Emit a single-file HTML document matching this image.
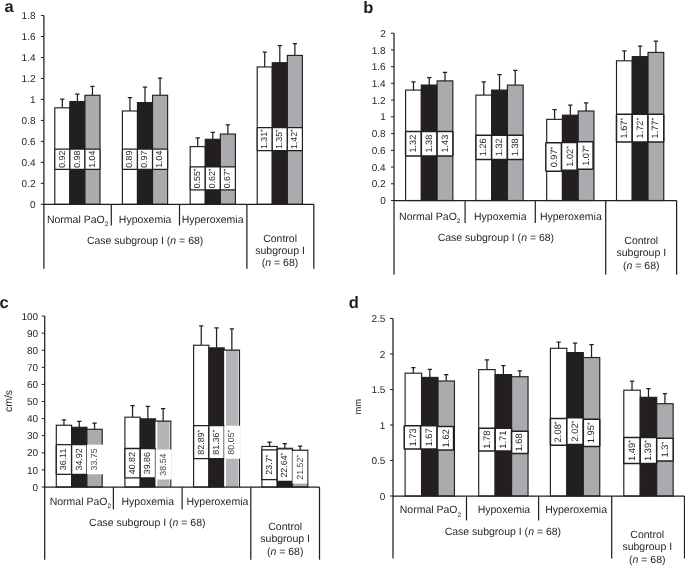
<!DOCTYPE html>
<html lang="en">
<head>
<meta charset="utf-8">
<title>Figure</title>
<style>
html,body{margin:0;padding:0;background:#fff;}
body{width:685px;height:566px;overflow:hidden;}
svg{display:block;will-change:transform;text-rendering:geometricPrecision;font-family:"Liberation Sans", Arial, Helvetica, sans-serif;}
</style>
</head>
<body>
<svg width="685" height="566" viewBox="0 0 685 566">
<rect width="685" height="566" fill="#fff"/>
<g id="panel-a">
<text x="4.5" y="12.3" font-size="16.5" font-weight="bold" fill="#231f20">a</text>
<path d="M62.33 107.84V99.2M60.18 99.2H64.48" stroke="#231f20" stroke-width="1.25" fill="none"/>
<rect x="54.8" y="107.84" width="15.07" height="96.46" fill="#ffffff" stroke="#231f20" stroke-width="1.15"/>
<path d="M77.41 101.55V94M75.25 94H79.56" stroke="#231f20" stroke-width="1.25" fill="none"/>
<rect x="69.87" y="101.55" width="15.07" height="102.75" fill="#231f20" stroke="#231f20" stroke-width="1.15"/>
<path d="M92.47 95.26V86.4M90.32 86.4H94.62" stroke="#231f20" stroke-width="1.25" fill="none"/>
<rect x="84.94" y="95.26" width="15.07" height="109.04" fill="#a9abae" stroke="#231f20" stroke-width="1.15"/>
<path d="M129.94 110.98V97.7M127.78 97.7H132.09" stroke="#231f20" stroke-width="1.25" fill="none"/>
<rect x="122.4" y="110.98" width="15.07" height="93.32" fill="#ffffff" stroke="#231f20" stroke-width="1.15"/>
<path d="M145 102.6V87.2M142.85 87.2H147.16" stroke="#231f20" stroke-width="1.25" fill="none"/>
<rect x="137.47" y="102.6" width="15.07" height="101.7" fill="#231f20" stroke="#231f20" stroke-width="1.15"/>
<path d="M160.08 95.26V78.1M157.93 78.1H162.23" stroke="#231f20" stroke-width="1.25" fill="none"/>
<rect x="152.54" y="95.26" width="15.07" height="109.04" fill="#a9abae" stroke="#231f20" stroke-width="1.15"/>
<path d="M197.73 146.63V137.9M195.58 137.9H199.88" stroke="#231f20" stroke-width="1.25" fill="none"/>
<rect x="190.2" y="146.63" width="15.07" height="57.67" fill="#ffffff" stroke="#231f20" stroke-width="1.15"/>
<path d="M212.8 139.29V132.3M210.65 132.3H214.95" stroke="#231f20" stroke-width="1.25" fill="none"/>
<rect x="205.27" y="139.29" width="15.07" height="65.01" fill="#231f20" stroke="#231f20" stroke-width="1.15"/>
<path d="M227.87 134.05V124.9M225.72 124.9H230.02" stroke="#231f20" stroke-width="1.25" fill="none"/>
<rect x="220.34" y="134.05" width="15.07" height="70.25" fill="#a9abae" stroke="#231f20" stroke-width="1.15"/>
<path d="M264.74 66.95V52M262.59 52H266.88" stroke="#231f20" stroke-width="1.25" fill="none"/>
<rect x="257.2" y="66.95" width="15.07" height="137.35" fill="#ffffff" stroke="#231f20" stroke-width="1.15"/>
<path d="M279.81 62.75V45.7M277.66 45.7H281.95" stroke="#231f20" stroke-width="1.25" fill="none"/>
<rect x="272.27" y="62.75" width="15.07" height="141.55" fill="#231f20" stroke="#231f20" stroke-width="1.15"/>
<path d="M294.88 55.41V43.5M292.73 43.5H297.02" stroke="#231f20" stroke-width="1.25" fill="none"/>
<rect x="287.34" y="55.41" width="15.07" height="148.89" fill="#a9abae" stroke="#231f20" stroke-width="1.15"/>
<rect x="54.8" y="149.1" width="15.07" height="20.3" fill="#fff" stroke="#231f20" stroke-width="1.2" rx="0.6"/>
<text transform="translate(64.74 159.25) rotate(-90)" text-anchor="middle" font-size="8.8" fill="#231f20">0.92</text>
<rect x="69.87" y="149.1" width="15.07" height="20.3" fill="#fff" stroke="#231f20" stroke-width="1.2" rx="0.6"/>
<text transform="translate(79.81 159.25) rotate(-90)" text-anchor="middle" font-size="8.8" fill="#231f20">0.98</text>
<rect x="84.94" y="149.1" width="15.07" height="20.3" fill="#fff" stroke="#231f20" stroke-width="1.2" rx="0.6"/>
<text transform="translate(94.88 159.25) rotate(-90)" text-anchor="middle" font-size="8.8" fill="#231f20">1.04</text>
<rect x="122.4" y="149.1" width="15.07" height="20.3" fill="#fff" stroke="#231f20" stroke-width="1.2" rx="0.6"/>
<text transform="translate(132.34 159.25) rotate(-90)" text-anchor="middle" font-size="8.8" fill="#231f20">0.89</text>
<rect x="137.47" y="149.1" width="15.07" height="20.3" fill="#fff" stroke="#231f20" stroke-width="1.2" rx="0.6"/>
<text transform="translate(147.41 159.25) rotate(-90)" text-anchor="middle" font-size="8.8" fill="#231f20">0.97</text>
<rect x="152.54" y="149.1" width="15.07" height="20.3" fill="#fff" stroke="#231f20" stroke-width="1.2" rx="0.6"/>
<text transform="translate(162.48 159.25) rotate(-90)" text-anchor="middle" font-size="8.8" fill="#231f20">1.04</text>
<rect x="190.2" y="166.9" width="15.07" height="22.9" fill="#fff" stroke="#231f20" stroke-width="1.2" rx="0.6"/>
<text transform="translate(200.14 178.35) rotate(-90)" text-anchor="middle" font-size="8.8" fill="#231f20">0.55<tspan font-size="7" dy="-2">*</tspan></text>
<rect x="205.27" y="166.9" width="15.07" height="22.9" fill="#fff" stroke="#231f20" stroke-width="1.2" rx="0.6"/>
<text transform="translate(215.21 178.35) rotate(-90)" text-anchor="middle" font-size="8.8" fill="#231f20">0.62<tspan font-size="7" dy="-2">*</tspan></text>
<rect x="220.34" y="166.9" width="15.07" height="22.9" fill="#fff" stroke="#231f20" stroke-width="1.2" rx="0.6"/>
<text transform="translate(230.28 178.35) rotate(-90)" text-anchor="middle" font-size="8.8" fill="#231f20">0.67<tspan font-size="7" dy="-2">*</tspan></text>
<rect x="257.2" y="127.6" width="15.07" height="23" fill="#fff" stroke="#231f20" stroke-width="1.2" rx="0.6"/>
<text transform="translate(267.14 139.1) rotate(-90)" text-anchor="middle" font-size="8.8" fill="#231f20">1.31<tspan font-size="7" dy="-2">*</tspan></text>
<rect x="272.27" y="127.6" width="15.07" height="23" fill="#fff" stroke="#231f20" stroke-width="1.2" rx="0.6"/>
<text transform="translate(282.21 139.1) rotate(-90)" text-anchor="middle" font-size="8.8" fill="#231f20">1.35<tspan font-size="7" dy="-2">*</tspan></text>
<rect x="287.34" y="127.6" width="15.07" height="23" fill="#fff" stroke="#231f20" stroke-width="1.2" rx="0.6"/>
<text transform="translate(297.28 139.1) rotate(-90)" text-anchor="middle" font-size="8.8" fill="#231f20">1.42<tspan font-size="7" dy="-2">*</tspan></text>
<path d="M43.9 15.57V268.7M43.9 204.3H313.8" stroke="#231f20" stroke-width="1.25" fill="none"/>
<path d="M111.3 204.3V225.5" stroke="#231f20" stroke-width="1.2"/>
<path d="M179.5 204.3V225.5" stroke="#231f20" stroke-width="1.2"/>
<path d="M246.9 204.3V268.7" stroke="#231f20" stroke-width="1.25"/>
<path d="M313.8 204.3V268.7" stroke="#231f20" stroke-width="1.25"/>
<path d="M40.9 204.3H43.9" stroke="#231f20" stroke-width="1"/>
<text x="35.5" y="207.9" text-anchor="end" font-size="10" fill="#231f20">0</text>
<path d="M40.9 183.33H43.9" stroke="#231f20" stroke-width="1"/>
<text x="35.5" y="186.93" text-anchor="end" font-size="10" fill="#231f20">0.2</text>
<path d="M40.9 162.36H43.9" stroke="#231f20" stroke-width="1"/>
<text x="35.5" y="165.96" text-anchor="end" font-size="10" fill="#231f20">0.4</text>
<path d="M40.9 141.39H43.9" stroke="#231f20" stroke-width="1"/>
<text x="35.5" y="144.99" text-anchor="end" font-size="10" fill="#231f20">0.6</text>
<path d="M40.9 120.42H43.9" stroke="#231f20" stroke-width="1"/>
<text x="35.5" y="124.02" text-anchor="end" font-size="10" fill="#231f20">0.8</text>
<path d="M40.9 99.45H43.9" stroke="#231f20" stroke-width="1"/>
<text x="35.5" y="103.05" text-anchor="end" font-size="10" fill="#231f20">1</text>
<path d="M40.9 78.48H43.9" stroke="#231f20" stroke-width="1"/>
<text x="35.5" y="82.08" text-anchor="end" font-size="10" fill="#231f20">1.2</text>
<path d="M40.9 57.51H43.9" stroke="#231f20" stroke-width="1"/>
<text x="35.5" y="61.11" text-anchor="end" font-size="10" fill="#231f20">1.4</text>
<path d="M40.9 36.54H43.9" stroke="#231f20" stroke-width="1"/>
<text x="35.5" y="40.14" text-anchor="end" font-size="10" fill="#231f20">1.6</text>
<path d="M40.9 15.57H43.9" stroke="#231f20" stroke-width="1"/>
<text x="35.5" y="19.17" text-anchor="end" font-size="10" fill="#231f20">1.8</text>
<text x="77.64" y="223" text-anchor="middle" font-size="10.5" fill="#231f20">Normal PaO<tspan font-size="6.5" dy="3.3">2</tspan></text>
<text x="145.11" y="223" text-anchor="middle" font-size="10.5" fill="#231f20">Hypoxemia</text>
<text x="212.59" y="223" text-anchor="middle" font-size="10.5" fill="#231f20">Hyperoxemia</text>
<text x="145.11" y="243.8" text-anchor="middle" font-size="10.5" fill="#231f20">Case subgroup I (<tspan font-style="italic">n</tspan> = 68)</text>
<text x="280.06" y="241.8" text-anchor="middle" font-size="10.5" fill="#231f20">Control</text>
<text x="280.06" y="253.7" text-anchor="middle" font-size="10.5" fill="#231f20">subgroup I</text>
<text x="280.06" y="265.6" text-anchor="middle" font-size="10.5" fill="#231f20">(<tspan font-style="italic">n</tspan> = 68)</text>
</g>
<g id="panel-b">
<text x="363.2" y="12.8" font-size="16.5" font-weight="bold" fill="#231f20">b</text>
<path d="M413.48 90.08V81.9M411.33 81.9H415.62" stroke="#231f20" stroke-width="1.25" fill="none"/>
<rect x="405.6" y="90.08" width="15.75" height="110.42" fill="#ffffff" stroke="#231f20" stroke-width="1.15"/>
<path d="M429.23 85.06V77.6M427.08 77.6H431.38" stroke="#231f20" stroke-width="1.25" fill="none"/>
<rect x="421.35" y="85.06" width="15.75" height="115.44" fill="#231f20" stroke="#231f20" stroke-width="1.15"/>
<path d="M444.98 80.88V72.4M442.83 72.4H447.12" stroke="#231f20" stroke-width="1.25" fill="none"/>
<rect x="437.1" y="80.88" width="15.75" height="119.62" fill="#a9abae" stroke="#231f20" stroke-width="1.15"/>
<path d="M483.77 95.1V81.9M481.62 81.9H485.92" stroke="#231f20" stroke-width="1.25" fill="none"/>
<rect x="475.9" y="95.1" width="15.75" height="105.4" fill="#ffffff" stroke="#231f20" stroke-width="1.15"/>
<path d="M499.52 90.08V74.6M497.38 74.6H501.67" stroke="#231f20" stroke-width="1.25" fill="none"/>
<rect x="491.65" y="90.08" width="15.75" height="110.42" fill="#231f20" stroke="#231f20" stroke-width="1.15"/>
<path d="M515.27 85.06V70.4M513.12 70.4H517.42" stroke="#231f20" stroke-width="1.25" fill="none"/>
<rect x="507.4" y="85.06" width="15.75" height="115.44" fill="#a9abae" stroke="#231f20" stroke-width="1.15"/>
<path d="M554.58 119.36V109.5M552.43 109.5H556.73" stroke="#231f20" stroke-width="1.25" fill="none"/>
<rect x="546.7" y="119.36" width="15.75" height="81.14" fill="#ffffff" stroke="#231f20" stroke-width="1.15"/>
<path d="M570.33 115.18V105M568.18 105H572.48" stroke="#231f20" stroke-width="1.25" fill="none"/>
<rect x="562.45" y="115.18" width="15.75" height="85.32" fill="#231f20" stroke="#231f20" stroke-width="1.15"/>
<path d="M586.08 110.99V102.8M583.93 102.8H588.23" stroke="#231f20" stroke-width="1.25" fill="none"/>
<rect x="578.2" y="110.99" width="15.75" height="89.51" fill="#a9abae" stroke="#231f20" stroke-width="1.15"/>
<path d="M624.38 60.8V50.8M622.23 50.8H626.52" stroke="#231f20" stroke-width="1.25" fill="none"/>
<rect x="616.5" y="60.8" width="15.75" height="139.7" fill="#ffffff" stroke="#231f20" stroke-width="1.15"/>
<path d="M640.12 56.62V46M637.98 46H642.27" stroke="#231f20" stroke-width="1.25" fill="none"/>
<rect x="632.25" y="56.62" width="15.75" height="143.88" fill="#231f20" stroke="#231f20" stroke-width="1.15"/>
<path d="M655.88 52.44V41.2M653.73 41.2H658.02" stroke="#231f20" stroke-width="1.25" fill="none"/>
<rect x="648" y="52.44" width="15.75" height="148.06" fill="#a9abae" stroke="#231f20" stroke-width="1.15"/>
<rect x="405.6" y="131.4" width="15.75" height="24.5" fill="#fff" stroke="#231f20" stroke-width="1.45" rx="0.6"/>
<text transform="translate(416.02 143.65) rotate(-90)" text-anchor="middle" font-size="9.2" fill="#231f20">1.32</text>
<rect x="421.35" y="131.4" width="15.75" height="24.5" fill="#fff" stroke="#231f20" stroke-width="1.45" rx="0.6"/>
<text transform="translate(431.77 143.65) rotate(-90)" text-anchor="middle" font-size="9.2" fill="#231f20">1.38</text>
<rect x="437.1" y="131.4" width="15.75" height="24.5" fill="#fff" stroke="#231f20" stroke-width="1.45" rx="0.6"/>
<text transform="translate(447.52 143.65) rotate(-90)" text-anchor="middle" font-size="9.2" fill="#231f20">1.43</text>
<rect x="475.9" y="135.2" width="15.75" height="24.2" fill="#fff" stroke="#231f20" stroke-width="1.45" rx="0.6"/>
<text transform="translate(486.32 147.3) rotate(-90)" text-anchor="middle" font-size="9.2" fill="#231f20">1.26</text>
<rect x="491.65" y="135.2" width="15.75" height="24.2" fill="#fff" stroke="#231f20" stroke-width="1.45" rx="0.6"/>
<text transform="translate(502.07 147.3) rotate(-90)" text-anchor="middle" font-size="9.2" fill="#231f20">1.32</text>
<rect x="507.4" y="135.2" width="15.75" height="24.2" fill="#fff" stroke="#231f20" stroke-width="1.45" rx="0.6"/>
<text transform="translate(517.82 147.3) rotate(-90)" text-anchor="middle" font-size="9.2" fill="#231f20">1.38</text>
<rect x="545.8" y="142.7" width="15.75" height="28.6" fill="#fff" stroke="#231f20" stroke-width="1.45" rx="0.6"/>
<text transform="translate(557.12 157) rotate(-90)" text-anchor="middle" font-size="9.2" fill="#231f20">0.97<tspan font-size="7" dy="-2">*</tspan></text>
<rect x="561.55" y="142.5" width="15.75" height="27.8" fill="#fff" stroke="#231f20" stroke-width="1.45" rx="0.6"/>
<text transform="translate(572.87 156.4) rotate(-90)" text-anchor="middle" font-size="9.2" fill="#231f20">1.02<tspan font-size="7" dy="-2">*</tspan></text>
<rect x="577.3" y="141.8" width="15.75" height="27.5" fill="#fff" stroke="#231f20" stroke-width="1.45" rx="0.6"/>
<text transform="translate(588.62 155.55) rotate(-90)" text-anchor="middle" font-size="9.2" fill="#231f20">1.07<tspan font-size="7" dy="-2">*</tspan></text>
<rect x="616.5" y="114.3" width="15.75" height="27.7" fill="#fff" stroke="#231f20" stroke-width="1.45" rx="0.6"/>
<text transform="translate(626.92 128.15) rotate(-90)" text-anchor="middle" font-size="9.2" fill="#231f20">1.67<tspan font-size="7" dy="-2">*</tspan></text>
<rect x="632.25" y="114.3" width="15.75" height="27.7" fill="#fff" stroke="#231f20" stroke-width="1.45" rx="0.6"/>
<text transform="translate(642.67 128.15) rotate(-90)" text-anchor="middle" font-size="9.2" fill="#231f20">1.72<tspan font-size="7" dy="-2">*</tspan></text>
<rect x="648" y="114.3" width="15.75" height="27.7" fill="#fff" stroke="#231f20" stroke-width="1.45" rx="0.6"/>
<text transform="translate(658.42 128.15) rotate(-90)" text-anchor="middle" font-size="9.2" fill="#231f20">1.77<tspan font-size="7" dy="-2">*</tspan></text>
<path d="M394 33.2V274.6M394 200.5H676.6" stroke="#231f20" stroke-width="1.25" fill="none"/>
<path d="M465.1 200.5V223" stroke="#231f20" stroke-width="1.2"/>
<path d="M535.3 200.5V223" stroke="#231f20" stroke-width="1.2"/>
<path d="M605.7 200.5V274.6" stroke="#231f20" stroke-width="1.25"/>
<path d="M676.6 200.5V274.6" stroke="#231f20" stroke-width="1.25"/>
<path d="M391 200.5H394" stroke="#231f20" stroke-width="1"/>
<text x="385.7" y="204.1" text-anchor="end" font-size="10" fill="#231f20">0</text>
<path d="M391 183.77H394" stroke="#231f20" stroke-width="1"/>
<text x="385.7" y="187.37" text-anchor="end" font-size="10" fill="#231f20">0.2</text>
<path d="M391 167.04H394" stroke="#231f20" stroke-width="1"/>
<text x="385.7" y="170.64" text-anchor="end" font-size="10" fill="#231f20">0.4</text>
<path d="M391 150.31H394" stroke="#231f20" stroke-width="1"/>
<text x="385.7" y="153.91" text-anchor="end" font-size="10" fill="#231f20">0.6</text>
<path d="M391 133.58H394" stroke="#231f20" stroke-width="1"/>
<text x="385.7" y="137.18" text-anchor="end" font-size="10" fill="#231f20">0.8</text>
<path d="M391 116.85H394" stroke="#231f20" stroke-width="1"/>
<text x="385.7" y="120.45" text-anchor="end" font-size="10" fill="#231f20">1</text>
<path d="M391 100.12H394" stroke="#231f20" stroke-width="1"/>
<text x="385.7" y="103.72" text-anchor="end" font-size="10" fill="#231f20">1.2</text>
<path d="M391 83.39H394" stroke="#231f20" stroke-width="1"/>
<text x="385.7" y="86.99" text-anchor="end" font-size="10" fill="#231f20">1.4</text>
<path d="M391 66.66H394" stroke="#231f20" stroke-width="1"/>
<text x="385.7" y="70.26" text-anchor="end" font-size="10" fill="#231f20">1.6</text>
<path d="M391 49.93H394" stroke="#231f20" stroke-width="1"/>
<text x="385.7" y="53.53" text-anchor="end" font-size="10" fill="#231f20">1.8</text>
<path d="M391 33.2H394" stroke="#231f20" stroke-width="1"/>
<text x="385.7" y="36.8" text-anchor="end" font-size="10" fill="#231f20">2</text>
<text x="429.77" y="219.6" text-anchor="middle" font-size="10.5" fill="#231f20">Normal PaO<tspan font-size="6.5" dy="3.3">2</tspan></text>
<text x="500.28" y="219.6" text-anchor="middle" font-size="10.5" fill="#231f20">Hypoxemia</text>
<text x="570.83" y="219.6" text-anchor="middle" font-size="10.5" fill="#231f20">Hyperoxemia</text>
<text x="495.9" y="240.6" text-anchor="middle" font-size="10.5" fill="#231f20">Case subgroup I (<tspan font-style="italic">n</tspan> = 68)</text>
<text x="641.28" y="243.5" text-anchor="middle" font-size="10.5" fill="#231f20">Control</text>
<text x="641.28" y="256" text-anchor="middle" font-size="10.5" fill="#231f20">subgroup I</text>
<text x="641.28" y="268.7" text-anchor="middle" font-size="10.5" fill="#231f20">(<tspan font-style="italic">n</tspan> = 68)</text>
</g>
<g id="panel-c">
<text x="-0.6" y="307.7" font-size="16.5" font-weight="bold" fill="#231f20">c</text>
<path d="M63.95 425.25V419.9M61.8 419.9H66.1" stroke="#231f20" stroke-width="1.25" fill="none"/>
<rect x="56.3" y="425.25" width="15.3" height="61.75" fill="#ffffff" stroke="#231f20" stroke-width="1.15"/>
<path d="M79.25 427.29V421.4M77.1 421.4H81.4" stroke="#231f20" stroke-width="1.25" fill="none"/>
<rect x="71.6" y="427.29" width="15.3" height="59.71" fill="#231f20" stroke="#231f20" stroke-width="1.15"/>
<path d="M94.55 429.29V423.2M92.4 423.2H96.7" stroke="#231f20" stroke-width="1.25" fill="none"/>
<rect x="86.9" y="429.29" width="15.3" height="57.71" fill="#a9abae" stroke="#231f20" stroke-width="1.15"/>
<path d="M132.55 417.2V405.6M130.4 405.6H134.7" stroke="#231f20" stroke-width="1.25" fill="none"/>
<rect x="124.9" y="417.2" width="15.3" height="69.8" fill="#ffffff" stroke="#231f20" stroke-width="1.15"/>
<path d="M147.85 418.84V406.4M145.7 406.4H150" stroke="#231f20" stroke-width="1.25" fill="none"/>
<rect x="140.2" y="418.84" width="15.3" height="68.16" fill="#231f20" stroke="#231f20" stroke-width="1.15"/>
<path d="M163.15 421.1V408.7M161 408.7H165.3" stroke="#231f20" stroke-width="1.25" fill="none"/>
<rect x="155.5" y="421.1" width="15.3" height="65.9" fill="#fff" stroke="none"/>
<rect x="157.3" y="421.1" width="12.3" height="65.9" fill="#b3b4b7" stroke="none"/>
<path d="M155.5 421.1H170.8V487" fill="none" stroke="#231f20" stroke-width="1.15"/>
<path d="M201.25 345.26V325.9M199.1 325.9H203.4" stroke="#231f20" stroke-width="1.25" fill="none"/>
<rect x="193.6" y="345.26" width="15.3" height="141.74" fill="#ffffff" stroke="#231f20" stroke-width="1.15"/>
<path d="M216.55 347.87V327.9M214.4 327.9H218.7" stroke="#231f20" stroke-width="1.25" fill="none"/>
<rect x="208.9" y="347.87" width="15.3" height="139.13" fill="#231f20" stroke="#231f20" stroke-width="1.15"/>
<path d="M231.85 350.11V328.9M229.7 328.9H234" stroke="#231f20" stroke-width="1.25" fill="none"/>
<rect x="224.2" y="350.11" width="15.3" height="136.89" fill="#fff" stroke="none"/>
<rect x="226" y="350.11" width="12.3" height="136.89" fill="#b3b4b7" stroke="none"/>
<path d="M224.2 350.11H239.5V487" fill="none" stroke="#231f20" stroke-width="1.15"/>
<path d="M269.55 446.47V442.1M267.4 442.1H271.7" stroke="#231f20" stroke-width="1.25" fill="none"/>
<rect x="261.9" y="446.47" width="15.3" height="40.53" fill="#ffffff" stroke="#231f20" stroke-width="1.15"/>
<path d="M284.85 448.29V443.6M282.7 443.6H287" stroke="#231f20" stroke-width="1.25" fill="none"/>
<rect x="277.2" y="448.29" width="15.3" height="38.71" fill="#231f20" stroke="#231f20" stroke-width="1.15"/>
<path d="M300.15 450.2V446.1M298 446.1H302.3" stroke="#231f20" stroke-width="1.25" fill="none"/>
<rect x="292.5" y="450.2" width="15.3" height="36.8" fill="#a9abae" stroke="#231f20" stroke-width="1.15"/>
<rect x="56.3" y="444.6" width="15.3" height="29.7" fill="#fff" stroke="#231f20" stroke-width="1.3" rx="0.6"/>
<text transform="translate(66.39 459.45) rotate(-90)" text-anchor="middle" font-size="8.9" fill="#231f20">36.11</text>
<rect x="71.6" y="444.6" width="15.3" height="29.7" fill="#fff" stroke="#231f20" stroke-width="1.3" rx="0.6"/>
<text transform="translate(81.69 459.45) rotate(-90)" text-anchor="middle" font-size="8.9" fill="#231f20">34.92</text>
<rect x="86.9" y="444.6" width="16.3" height="29.7" fill="#fff" />
<text transform="translate(96.99 459.45) rotate(-90)" text-anchor="middle" font-size="8.9" fill="#4a4a4a">33.75</text>
<rect x="124.9" y="448.5" width="15.3" height="29.4" fill="#fff" stroke="#231f20" stroke-width="1.3" rx="0.6"/>
<text transform="translate(134.99 463.2) rotate(-90)" text-anchor="middle" font-size="8.9" fill="#231f20">40.82</text>
<rect x="140.2" y="448.5" width="15.3" height="29.4" fill="#fff" stroke="#231f20" stroke-width="1.3" rx="0.6"/>
<text transform="translate(150.29 463.2) rotate(-90)" text-anchor="middle" font-size="8.9" fill="#231f20">39.86</text>
<rect x="155.5" y="449.6" width="16.3" height="29.9" fill="#fff" />
<text transform="translate(165.59 464.55) rotate(-90)" text-anchor="middle" font-size="8.9" fill="#4a4a4a">38.54</text>
<rect x="193.6" y="425.7" width="15.3" height="33" fill="#fff" stroke="#231f20" stroke-width="1.3" rx="0.6"/>
<text transform="translate(203.69 442.2) rotate(-90)" text-anchor="middle" font-size="8.9" fill="#231f20">82.89<tspan font-size="7" dy="-2">*</tspan></text>
<rect x="208.9" y="425.7" width="15.3" height="33" fill="#fff" stroke="#231f20" stroke-width="1.3" rx="0.6"/>
<text transform="translate(218.99 442.2) rotate(-90)" text-anchor="middle" font-size="8.9" fill="#231f20">81.36<tspan font-size="7" dy="-2">*</tspan></text>
<rect x="224.2" y="425.7" width="16.3" height="33" fill="#fff" />
<text transform="translate(234.29 442.2) rotate(-90)" text-anchor="middle" font-size="8.9" fill="#4a4a4a">80.05<tspan font-size="7" dy="-2">*</tspan></text>
<rect x="261.9" y="449.8" width="15.3" height="29.8" fill="#fff" stroke="#231f20" stroke-width="1.3" rx="0.6"/>
<text transform="translate(271.99 464.7) rotate(-90)" text-anchor="middle" font-size="8.9" fill="#231f20">23.7<tspan font-size="7" dy="-2">*</tspan></text>
<rect x="277.2" y="448.8" width="15.3" height="32.7" fill="#fff" stroke="#231f20" stroke-width="1.3" rx="0.6"/>
<text transform="translate(287.29 465.15) rotate(-90)" text-anchor="middle" font-size="8.9" fill="#231f20">22.64<tspan font-size="7" dy="-2">*</tspan></text>
<rect x="292.5" y="451" width="14.7" height="32.6" fill="#fff" />
<text transform="translate(302.59 467.3) rotate(-90)" text-anchor="middle" font-size="8.9" fill="#4a4a4a">21.52<tspan font-size="7" dy="-2">*</tspan></text>
<path d="M44.7 316V559.7M44.7 487H319.5" stroke="#231f20" stroke-width="1.25" fill="none"/>
<path d="M113.4 487V509.4" stroke="#231f20" stroke-width="1.2"/>
<path d="M182.1 487V509.4" stroke="#231f20" stroke-width="1.2"/>
<path d="M250.8 487V559.7" stroke="#231f20" stroke-width="1.25"/>
<path d="M319.5 487V559.7" stroke="#231f20" stroke-width="1.25"/>
<path d="M41.7 487H44.7" stroke="#231f20" stroke-width="1"/>
<text x="38.1" y="490.6" text-anchor="end" font-size="10" fill="#231f20">0</text>
<path d="M41.7 469.9H44.7" stroke="#231f20" stroke-width="1"/>
<text x="38.1" y="473.5" text-anchor="end" font-size="10" fill="#231f20">10</text>
<path d="M41.7 452.8H44.7" stroke="#231f20" stroke-width="1"/>
<text x="38.1" y="456.4" text-anchor="end" font-size="10" fill="#231f20">20</text>
<path d="M41.7 435.7H44.7" stroke="#231f20" stroke-width="1"/>
<text x="38.1" y="439.3" text-anchor="end" font-size="10" fill="#231f20">30</text>
<path d="M41.7 418.6H44.7" stroke="#231f20" stroke-width="1"/>
<text x="38.1" y="422.2" text-anchor="end" font-size="10" fill="#231f20">40</text>
<path d="M41.7 401.5H44.7" stroke="#231f20" stroke-width="1"/>
<text x="38.1" y="405.1" text-anchor="end" font-size="10" fill="#231f20">50</text>
<path d="M41.7 384.4H44.7" stroke="#231f20" stroke-width="1"/>
<text x="38.1" y="388" text-anchor="end" font-size="10" fill="#231f20">60</text>
<path d="M41.7 367.3H44.7" stroke="#231f20" stroke-width="1"/>
<text x="38.1" y="370.9" text-anchor="end" font-size="10" fill="#231f20">70</text>
<path d="M41.7 350.2H44.7" stroke="#231f20" stroke-width="1"/>
<text x="38.1" y="353.8" text-anchor="end" font-size="10" fill="#231f20">80</text>
<path d="M41.7 333.1H44.7" stroke="#231f20" stroke-width="1"/>
<text x="38.1" y="336.7" text-anchor="end" font-size="10" fill="#231f20">90</text>
<path d="M41.7 316H44.7" stroke="#231f20" stroke-width="1"/>
<text x="38.1" y="319.6" text-anchor="end" font-size="10" fill="#231f20">100</text>
<text x="80.35" y="504.6" text-anchor="middle" font-size="10.5" fill="#231f20">Normal PaO<tspan font-size="6.5" dy="3.3">2</tspan></text>
<text x="147.75" y="504.6" text-anchor="middle" font-size="10.5" fill="#231f20">Hypoxemia</text>
<text x="217.45" y="504.6" text-anchor="middle" font-size="10.5" fill="#231f20">Hyperoxemia</text>
<text x="147.3" y="526.3" text-anchor="middle" font-size="10.5" fill="#231f20">Case subgroup I (<tspan font-style="italic">n</tspan> = 68)</text>
<text x="285.15" y="530" text-anchor="middle" font-size="10.5" fill="#231f20">Control</text>
<text x="285.15" y="542.2" text-anchor="middle" font-size="10.5" fill="#231f20">subgroup I</text>
<text x="285.15" y="554.8" text-anchor="middle" font-size="10.5" fill="#231f20">(<tspan font-style="italic">n</tspan> = 68)</text>
<text transform="translate(12.4 401.0) rotate(-90)" text-anchor="middle" font-size="10.5" fill="#231f20">cm/s</text>
</g>
<g id="panel-d">
<text x="348.8" y="307.6" font-size="16.5" font-weight="bold" fill="#231f20">d</text>
<path d="M413.33 373.17V367.6M411.18 367.6H415.48" stroke="#231f20" stroke-width="1.25" fill="none"/>
<rect x="405.1" y="373.17" width="16.45" height="122.83" fill="#ffffff" stroke="#231f20" stroke-width="1.15"/>
<path d="M429.78 377.43V369.4M427.63 369.4H431.93" stroke="#231f20" stroke-width="1.25" fill="none"/>
<rect x="421.55" y="377.43" width="16.45" height="118.57" fill="#231f20" stroke="#231f20" stroke-width="1.15"/>
<path d="M446.23 380.98V374.7M444.08 374.7H448.38" stroke="#231f20" stroke-width="1.25" fill="none"/>
<rect x="438" y="380.98" width="16.45" height="115.02" fill="#a9abae" stroke="#231f20" stroke-width="1.15"/>
<path d="M486.93 369.62V359.8M484.78 359.8H489.07" stroke="#231f20" stroke-width="1.25" fill="none"/>
<rect x="478.7" y="369.62" width="16.45" height="126.38" fill="#ffffff" stroke="#231f20" stroke-width="1.15"/>
<path d="M503.38 374.59V365.6M501.23 365.6H505.52" stroke="#231f20" stroke-width="1.25" fill="none"/>
<rect x="495.15" y="374.59" width="16.45" height="121.41" fill="#231f20" stroke="#231f20" stroke-width="1.15"/>
<path d="M519.82 376.72V370.9M517.67 370.9H521.97" stroke="#231f20" stroke-width="1.25" fill="none"/>
<rect x="511.6" y="376.72" width="16.45" height="119.28" fill="#a9abae" stroke="#231f20" stroke-width="1.15"/>
<path d="M558.62 348.32V342M556.48 342H560.77" stroke="#231f20" stroke-width="1.25" fill="none"/>
<rect x="550.4" y="348.32" width="16.45" height="147.68" fill="#ffffff" stroke="#231f20" stroke-width="1.15"/>
<path d="M575.08 352.58V343M572.93 343H577.23" stroke="#231f20" stroke-width="1.25" fill="none"/>
<rect x="566.85" y="352.58" width="16.45" height="143.42" fill="#231f20" stroke="#231f20" stroke-width="1.15"/>
<path d="M591.52 357.55V344.5M589.38 344.5H593.67" stroke="#231f20" stroke-width="1.25" fill="none"/>
<rect x="583.3" y="357.55" width="16.45" height="138.45" fill="#a9abae" stroke="#231f20" stroke-width="1.15"/>
<path d="M632.02 390.21V381M629.88 381H634.17" stroke="#231f20" stroke-width="1.25" fill="none"/>
<rect x="623.8" y="390.21" width="16.45" height="105.79" fill="#ffffff" stroke="#231f20" stroke-width="1.15"/>
<path d="M648.48 397.31V388.5M646.33 388.5H650.62" stroke="#231f20" stroke-width="1.25" fill="none"/>
<rect x="640.25" y="397.31" width="16.45" height="98.69" fill="#231f20" stroke="#231f20" stroke-width="1.15"/>
<path d="M664.92 403.7V393.5M662.77 393.5H667.07" stroke="#231f20" stroke-width="1.25" fill="none"/>
<rect x="656.7" y="403.7" width="16.45" height="92.3" fill="#a9abae" stroke="#231f20" stroke-width="1.15"/>
<rect x="404.2" y="425.7" width="16.45" height="23.4" fill="#fff" stroke="#231f20" stroke-width="1.5" rx="0.6"/>
<text transform="translate(415.94 437.4) rotate(-90)" text-anchor="middle" font-size="9.4" fill="#231f20">1.73</text>
<rect x="420.65" y="425.7" width="16.45" height="23.4" fill="#fff" stroke="#231f20" stroke-width="1.5" rx="0.6"/>
<text transform="translate(432.39 437.4) rotate(-90)" text-anchor="middle" font-size="9.4" fill="#231f20">1.67</text>
<rect x="437.1" y="426.5" width="16.45" height="23.6" fill="#fff" stroke="#231f20" stroke-width="1.5" rx="0.6"/>
<text transform="translate(448.84 438.3) rotate(-90)" text-anchor="middle" font-size="9.4" fill="#231f20">1.62</text>
<rect x="478.7" y="428.3" width="16.45" height="22.7" fill="#fff" stroke="#231f20" stroke-width="1.5" rx="0.6"/>
<text transform="translate(489.54 439.65) rotate(-90)" text-anchor="middle" font-size="9.4" fill="#231f20">1.78</text>
<rect x="495.15" y="428.3" width="16.45" height="22.7" fill="#fff" stroke="#231f20" stroke-width="1.5" rx="0.6"/>
<text transform="translate(505.99 439.65) rotate(-90)" text-anchor="middle" font-size="9.4" fill="#231f20">1.71</text>
<rect x="511.6" y="431.3" width="16.45" height="22.1" fill="#fff" stroke="#231f20" stroke-width="1.5" rx="0.6"/>
<text transform="translate(522.44 442.35) rotate(-90)" text-anchor="middle" font-size="9.4" fill="#231f20">1.68</text>
<rect x="550.4" y="418.5" width="16.45" height="26.8" fill="#fff" stroke="#231f20" stroke-width="1.5" rx="0.6"/>
<text transform="translate(561.24 431.9) rotate(-90)" text-anchor="middle" font-size="9.4" fill="#231f20">2.08<tspan font-size="7" dy="-2">*</tspan></text>
<rect x="566.85" y="417.8" width="16.45" height="26.7" fill="#fff" stroke="#231f20" stroke-width="1.5" rx="0.6"/>
<text transform="translate(577.69 431.15) rotate(-90)" text-anchor="middle" font-size="9.4" fill="#231f20">2.02<tspan font-size="7" dy="-2">*</tspan></text>
<rect x="583.3" y="419.2" width="16.45" height="27.2" fill="#fff" stroke="#231f20" stroke-width="1.5" rx="0.6"/>
<text transform="translate(594.14 432.8) rotate(-90)" text-anchor="middle" font-size="9.4" fill="#231f20">1.95<tspan font-size="7" dy="-2">*</tspan></text>
<rect x="623.8" y="437.6" width="16.45" height="25.8" fill="#fff" stroke="#231f20" stroke-width="1.5" rx="0.6"/>
<text transform="translate(634.64 450.5) rotate(-90)" text-anchor="middle" font-size="9.4" fill="#231f20">1.49<tspan font-size="7" dy="-2">*</tspan></text>
<rect x="640.25" y="437.6" width="16.45" height="25.8" fill="#fff" stroke="#231f20" stroke-width="1.5" rx="0.6"/>
<text transform="translate(651.09 450.5) rotate(-90)" text-anchor="middle" font-size="9.4" fill="#231f20">1.39<tspan font-size="7" dy="-2">*</tspan></text>
<rect x="656.7" y="438.3" width="16.45" height="22.6" fill="#fff" stroke="#231f20" stroke-width="1.5" rx="0.6"/>
<text transform="translate(667.54 449.6) rotate(-90)" text-anchor="middle" font-size="9.4" fill="#231f20">1.3<tspan font-size="7" dy="-2">*</tspan></text>
<path d="M393 318.5V558.4M393 496H684.5" stroke="#231f20" stroke-width="1.25" fill="none"/>
<path d="M466.5 496V520.4" stroke="#231f20" stroke-width="1.2"/>
<path d="M538.6 496V520.4" stroke="#231f20" stroke-width="1.2"/>
<path d="M611.7 496V558.4" stroke="#231f20" stroke-width="1.25"/>
<path d="M684.5 496V558.4" stroke="#231f20" stroke-width="1.25"/>
<path d="M390 496H393" stroke="#231f20" stroke-width="1"/>
<text x="385.4" y="499.6" text-anchor="end" font-size="10" fill="#231f20">0</text>
<path d="M390 460.5H393" stroke="#231f20" stroke-width="1"/>
<text x="385.4" y="464.1" text-anchor="end" font-size="10" fill="#231f20">0.5</text>
<path d="M390 425H393" stroke="#231f20" stroke-width="1"/>
<text x="385.4" y="428.6" text-anchor="end" font-size="10" fill="#231f20">1</text>
<path d="M390 389.5H393" stroke="#231f20" stroke-width="1"/>
<text x="385.4" y="393.1" text-anchor="end" font-size="10" fill="#231f20">1.5</text>
<path d="M390 354H393" stroke="#231f20" stroke-width="1"/>
<text x="385.4" y="357.6" text-anchor="end" font-size="10" fill="#231f20">2</text>
<path d="M390 318.5H393" stroke="#231f20" stroke-width="1"/>
<text x="385.4" y="322.1" text-anchor="end" font-size="10" fill="#231f20">2.5</text>
<text x="430.44" y="513.2" text-anchor="middle" font-size="10.5" fill="#231f20">Normal PaO<tspan font-size="6.5" dy="3.3">2</tspan></text>
<text x="503.91" y="513.2" text-anchor="middle" font-size="10.5" fill="#231f20">Hypoxemia</text>
<text x="576.09" y="513.2" text-anchor="middle" font-size="10.5" fill="#231f20">Hyperoxemia</text>
<text x="502.9" y="534.6" text-anchor="middle" font-size="10.5" fill="#231f20">Case subgroup I (<tspan font-style="italic">n</tspan> = 68)</text>
<text x="647.26" y="538.3" text-anchor="middle" font-size="10.5" fill="#231f20">Control</text>
<text x="647.26" y="550.4" text-anchor="middle" font-size="10.5" fill="#231f20">subgroup I</text>
<text x="647.26" y="563" text-anchor="middle" font-size="10.5" fill="#231f20">(<tspan font-style="italic">n</tspan> = 68)</text>
<text transform="translate(360.6 406.8) rotate(-90)" text-anchor="middle" font-size="9.4" fill="#231f20">mm</text>
</g>
</svg>
</body>
</html>
